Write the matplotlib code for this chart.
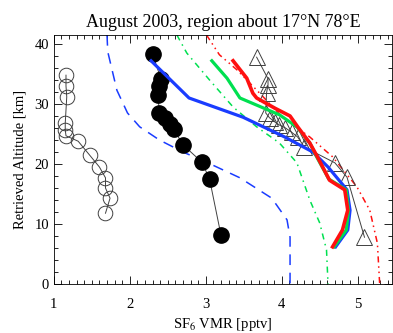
import matplotlib
matplotlib.use("Agg")
import matplotlib.pyplot as plt
from matplotlib.ticker import MultipleLocator

# open circles
oc_x = [1.16, 1.16, 1.17, 1.15, 1.15, 1.16, 1.32, 1.47, 1.60, 1.68, 1.68, 1.74, 1.68]
oc_y = [34.8, 33.0, 31.2, 26.8, 25.7, 24.7, 23.8, 21.5, 19.5, 17.7, 16.0, 14.3, 11.8]

# filled circles
fc_x = [2.30, 2.41, 2.39, 2.37, 2.39, 2.46, 2.53, 2.58, 2.70, 2.95, 3.05, 3.20]
fc_y = [38.3, 34.2, 33.0, 31.5, 28.5, 27.7, 26.7, 25.8, 23.2, 20.3, 17.5, 8.2]

# triangles
tr_x = [3.67, 3.82, 3.82, 3.80, 3.79, 3.84, 3.91, 3.97, 4.05, 4.13, 4.21, 4.30, 4.70, 4.86, 5.09]
tr_y = [37.8, 34.2, 33.2, 31.8, 28.5, 27.7, 27.0, 26.5, 26.0, 25.3, 24.5, 22.8, 20.2, 17.8, 7.8]

# solid retrievals
blue_x = [2.28, 2.78, 3.49, 4.04, 4.41, 4.61, 4.86, 4.90, 4.87, 4.71]
blue_y = [37.2, 31.0, 27.8, 24.5, 22.0, 19.5, 15.7, 12.3, 9.0, 6.2]
green_x = [3.08, 3.28, 3.45, 3.97, 4.20, 4.37, 4.46, 4.62, 4.85, 4.88, 4.85, 4.69]
green_y = [37.2, 34.3, 31.0, 28.2, 26.2, 23.5, 21.2, 17.5, 15.7, 12.3, 9.0, 6.2]
red_x = [3.36, 3.54, 3.62, 3.67, 3.91, 4.11, 4.21, 4.37, 4.47, 4.63, 4.83, 4.87, 4.80, 4.67]
red_y = [37.2, 34.3, 31.8, 31.0, 29.3, 28.0, 26.2, 23.5, 21.2, 17.3, 15.7, 12.3, 9.0, 6.2]

# a priori profiles
bdash_x = [1.70, 1.71, 1.83, 1.97, 2.13, 2.39, 2.70, 3.01, 3.45, 3.87, 4.07, 4.11, 4.11]
bdash_y = [41.5, 38.7, 32.3, 28.5, 26.2, 24.0, 22.0, 20.3, 17.7, 14.3, 10.7, 7.8, 0.0]
gdash_x = [2.62, 2.75, 3.05, 3.36, 3.67, 3.97, 4.20, 4.37, 4.50, 4.59, 4.61]
gdash_y = [41.5, 38.5, 34.0, 29.5, 26.2, 23.5, 20.2, 14.0, 10.2, 5.7, 0.0]
rdash_x = [3.01, 3.18, 3.41, 3.71, 4.01, 4.37, 4.67, 4.99, 5.16, 5.26, 5.29]
rdash_y = [41.5, 38.2, 35.7, 31.8, 27.8, 24.5, 21.2, 16.2, 12.3, 6.8, 0.0]

plt.rcParams['font.family'] = 'Liberation Serif'
plt.rcParams['mathtext.fontset'] = 'stix'

fig = plt.figure(figsize=(3.93, 3.33), dpi=100)
ax = fig.add_axes([0.137, 0.147, 0.86, 0.748])

ax.plot(bdash_x, bdash_y, color='#1a3cff', lw=1.1, dashes=(7, 5))
ax.plot(gdash_x, gdash_y, color='#00e050', lw=1.1, dashes=(4, 3, 1, 3))
ax.plot(rdash_x, rdash_y, color='#ff1010', lw=1.1, dashes=(4, 2.5, 1, 2.5, 1, 2.5))

ax.plot(oc_x, oc_y, color='#404040', lw=0.7, marker='o', ms=10.5,
        mfc='none', mec='#404040', mew=0.7)
ax.plot(fc_x, fc_y, color='#404040', lw=0.7, marker='o', ms=11,
        mfc='black', mec='black')
ax.plot(tr_x, tr_y, color='#404040', lw=0.7, marker='^', ms=12,
        mfc='none', mec='#404040', mew=0.7)

ax.plot(blue_x, blue_y, color='#1a3cff', lw=2.3)
ax.plot(green_x, green_y, color='#00e050', lw=2.3)
ax.plot(red_x, red_y, color='#ff1010', lw=2.6)

ax.set_xlim(1, 5.45)
ax.set_ylim(0, 41.5)
ax.xaxis.set_major_locator(MultipleLocator(1))
ax.xaxis.set_minor_locator(MultipleLocator(0.1))
ax.yaxis.set_major_locator(MultipleLocator(10))
ax.yaxis.set_minor_locator(MultipleLocator(2))
ax.tick_params(which='both', direction='in', top=True, right=True, labelsize=10.5)
ax.tick_params(which='major', length=6, width=0.6)
ax.tick_params(which='minor', length=3, width=0.6)
ax.tick_params(axis='x', pad=10)
for s in ax.spines.values():
    s.set_linewidth(0.6)

ax.set_xlabel('SF$_6$ VMR [pptv]', fontsize=10.5, labelpad=4)
ax.set_ylabel('Retrieved Altitude [km]', fontsize=10.5, labelpad=6)
ax.set_title('August 2003, region about 17\u00b0N 78\u00b0E', fontsize=13, pad=6)

fig.savefig('out.png', dpi=100)
